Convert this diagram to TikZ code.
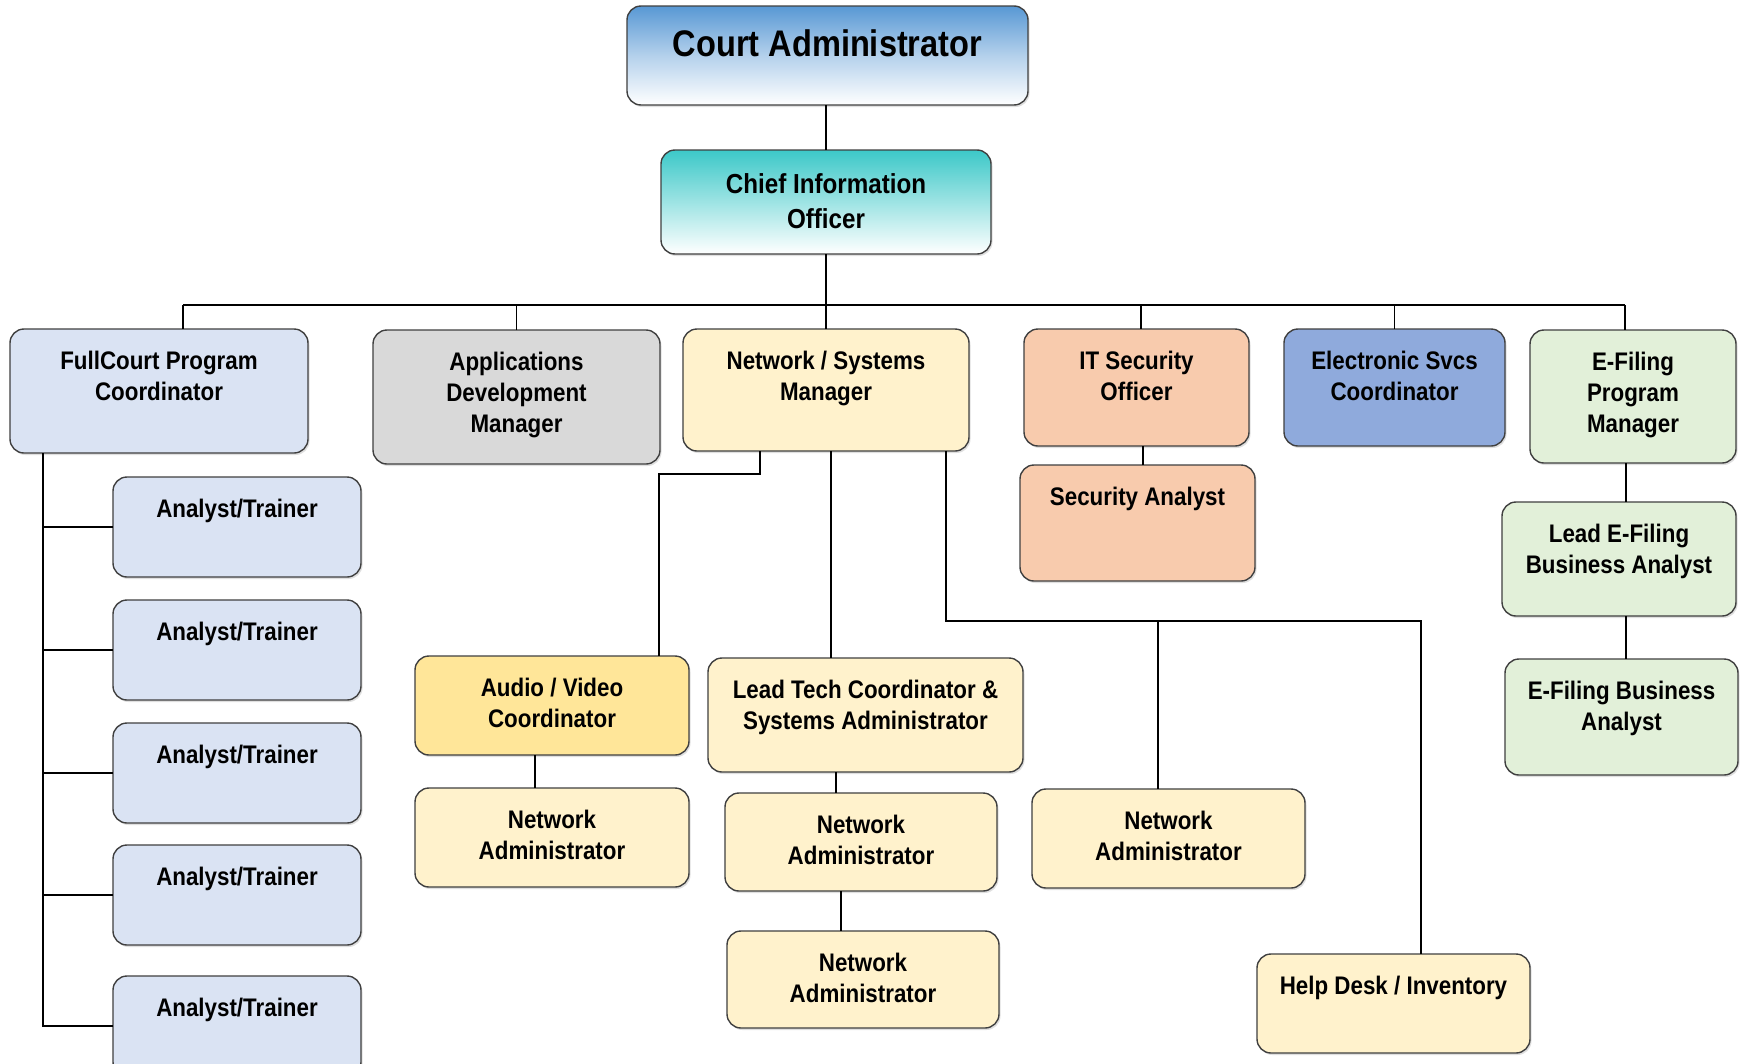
\documentclass[tikz,border=0pt]{standalone}
\usepackage{fontspec}
\setmainfont{Liberation Sans}[FakeStretch=0.88]
\usetikzlibrary{shadows}
\definecolor{cBorder}{RGB}{64,64,64}
\definecolor{cBlueL}{RGB}{218,227,243}
\definecolor{cGray}{RGB}{217,217,217}
\definecolor{cYelL}{RGB}{255,242,204}
\definecolor{cYelD}{RGB}{255,230,153}
\definecolor{cOrange}{RGB}{248,203,173}
\definecolor{cBlueM}{RGB}{143,170,220}
\definecolor{cGreen}{RGB}{226,240,217}
\definecolor{cTitle}{RGB}{88,152,212}
\definecolor{cTeal}{RGB}{60,200,200}
\newcommand\mlines[1]{\begin{tabular}[t]{@{}c@{}}#1\end{tabular}}
\newcommand\obox[7]{%
  \node[box, #6, minimum width={#4-#2}, minimum height={#5-#3}, anchor=north west] (#1) at (#2,#3) {};
  \node[txt] (#1-t) at ([yshift=-40pt]#1.north) {\mlines{#7}};}
\begin{document}
\begin{tikzpicture}[x=1pt,y=-1pt,
  box/.style={draw=cBorder, line width=1.4pt, rounded corners=14pt, inner sep=0pt, outer sep=0pt,
    drop shadow={shadow xshift=1.5pt, shadow yshift=-2pt, opacity=0.25, fill=gray}},
  txt/.style={anchor=base, inner sep=0pt, font=\bfseries\fontsize{25.4}{31}\selectfont},
  conn/.style={draw=black, line width=1.3pt}]
\useasboundingbox (0,0) rectangle (1742,1063);
\fill[white] (0,0) rectangle (1742,1063);
\clip (0,0) rectangle (1742,1063);

% top two
\node[box, top color=cTitle, bottom color=white, middle color=cTitle!45!white, minimum width=401, minimum height=99, anchor=north west] (ca) at (627,6) {};
\node[anchor=base, inner sep=0pt, font=\bfseries\fontsize{37}{40}\selectfont] (ca-t) at ([yshift=-50pt]ca.north) {Court Administrator};
\node[box, top color=cTeal, bottom color=white, minimum width=330, minimum height=104, anchor=north west] (cio) at (661,150) {};
\node[anchor=base, inner sep=0pt, font=\bfseries\fontsize{27.5}{35}\selectfont] (cio-t) at ([yshift=-43pt]cio.north) {\mlines{Chief Information\\Officer}};

% first row
\obox{fc}{10}{329}{308}{453}{fill=cBlueL}{FullCourt Program\\Coordinator}
\obox{apps}{373}{330}{660}{464}{fill=cGray}{Applications\\Development\\Manager}
\obox{nsm}{683}{329}{969}{451}{fill=cYelL}{Network / Systems\\Manager}
\obox{its}{1024}{329}{1249}{446}{fill=cOrange}{IT Security\\Officer}
\obox{esc}{1284}{329}{1505}{446}{fill=cBlueM}{Electronic Svcs\\Coordinator}
\obox{efpm}{1530}{330}{1736}{463}{fill=cGreen}{E-Filing\\Program\\Manager}

% right columns
\obox{sa}{1020}{465}{1255}{581}{fill=cOrange}{Security Analyst}
\obox{lefba}{1502}{502}{1736}{616}{fill=cGreen}{Lead E-Filing\\Business Analyst}
\obox{efba}{1505}{659}{1738}{775}{fill=cGreen}{E-Filing Business\\Analyst}

% analysts
\obox{at1}{113}{477}{361}{577}{fill=cBlueL}{Analyst/Trainer}
\obox{at2}{113}{600}{361}{700}{fill=cBlueL}{Analyst/Trainer}
\obox{at3}{113}{723}{361}{823}{fill=cBlueL}{Analyst/Trainer}
\obox{at4}{113}{845}{361}{945}{fill=cBlueL}{Analyst/Trainer}
\obox{at5}{113}{976}{361}{1076}{fill=cBlueL}{Analyst/Trainer}

% network branch
\obox{av}{415}{656}{689}{755}{fill=cYelD}{Audio / Video\\Coordinator}
\obox{na1}{415}{788}{689}{887}{fill=cYelL}{Network\\Administrator}
\obox{ltc}{708}{658}{1023}{772}{fill=cYelL}{Lead Tech Coordinator \&\\Systems Administrator}
\obox{na2}{725}{793}{997}{891}{fill=cYelL}{Network\\Administrator}
\obox{na3}{727}{931}{999}{1028}{fill=cYelL}{Network\\Administrator}
\obox{na4}{1032}{789}{1305}{888}{fill=cYelL}{Network\\Administrator}
\obox{hd}{1257}{954}{1530}{1053}{fill=cYelL}{Help Desk / Inventory}

% connectors
\coordinate (busL) at (183,305);
\coordinate (busR) at (1625,305);
\coordinate (itsx) at (1141,305);
\draw[conn] (cio.north) -- (cio.north |- ca.south);
\draw[conn] (cio.south) -- (cio.south |- busL);
\draw[conn] (busL) -- (busR);
\draw[conn] (busL) -- (busL |- fc.north);
\draw[conn] (apps.north) -- (apps.north |- busL);
\draw[conn] (nsm.north) -- (nsm.north |- busL);
\draw[conn] (itsx) -- (itsx |- its.north);
\draw[conn] (esc.north) -- (esc.north |- busL);
\draw[conn] (busR) -- (busR |- efpm.north);

\coordinate (fcv) at (43,0);
\draw[conn] (fcv |- fc.south) -- (fcv |- at5.west) -- (at5.west);
\foreach \i in {1,2,3,4} { \draw[conn] (fcv |- at\i.west) -- (at\i.west); }

\coordinate (sax) at (1143,0);
\draw[conn] (sax |- its.south) -- (sax |- sa.north);
\coordinate (efx) at (1626,0);
\draw[conn] (efx |- efpm.south) -- (efx |- lefba.north);
\draw[conn] (efx |- lefba.south) -- (efx |- efba.north);

\coordinate (nL1) at (760,474);
\coordinate (nL2) at (659,474);
\draw[conn] (nL1 |- nsm.south) -- (nL1) -- (nL2) -- (nL2 |- av.north);
\coordinate (nM) at (831,0);
\draw[conn] (nM |- nsm.south) -- (nM |- ltc.north);
\coordinate (nR1) at (946,621);
\coordinate (nR2) at (1421,621);
\coordinate (nR3) at (1158,621);
\draw[conn] (nR1 |- nsm.south) -- (nR1) -- (nR2) -- (nR2 |- hd.north);
\draw[conn] (nR3) -- (nR3 |- na4.north);

\coordinate (avx) at (535,0);
\draw[conn] (avx |- av.south) -- (avx |- na1.north);
\coordinate (ltx) at (836,0);
\draw[conn] (ltx |- ltc.south) -- (ltx |- na2.north);
\coordinate (n2x) at (841,0);
\draw[conn] (n2x |- na2.south) -- (n2x |- na3.north);
\end{tikzpicture}
\end{document}
